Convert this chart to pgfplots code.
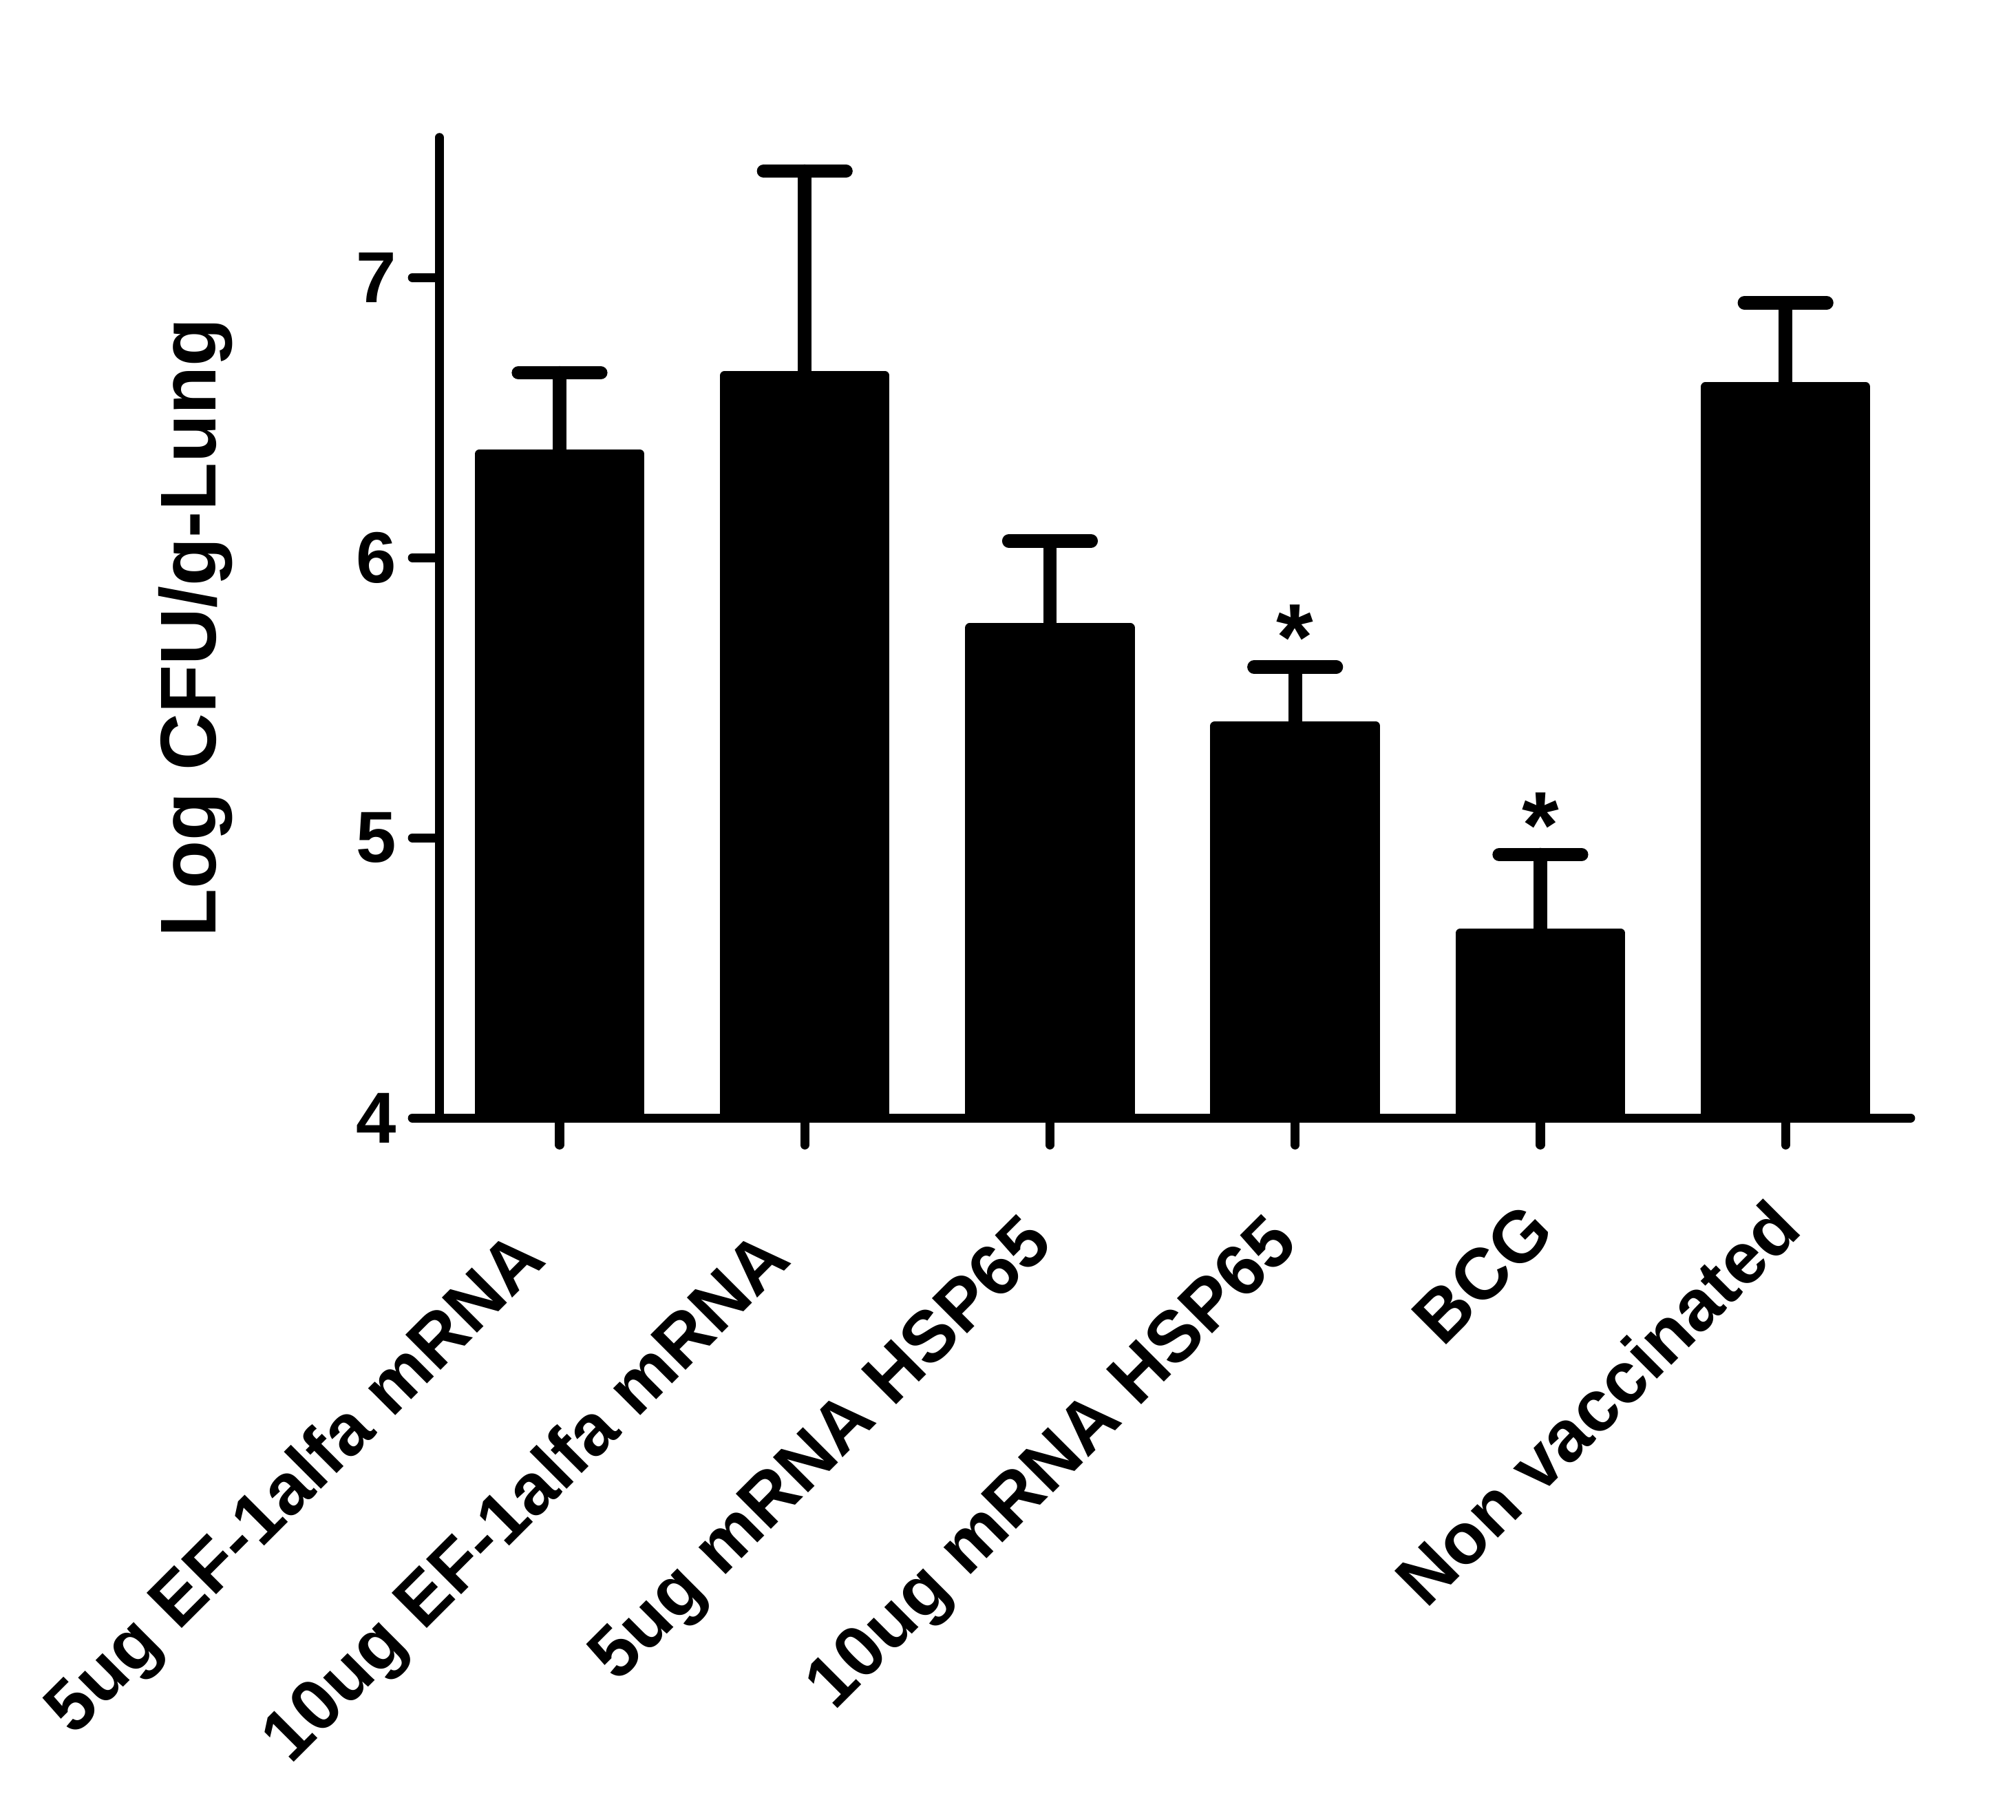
\documentclass[border=0pt]{standalone}
\usepackage{fontspec}
\setmainfont{Liberation Sans}
\usepackage{pgfplots}
\pgfplotsset{compat=1.18}
\begin{document}
\begin{tikzpicture}
\begin{axis}[
  scale only axis, width=11.45cm, height=7.63cm,
  xmin=-0.49, xmax=5.51, ymin=4, ymax=7.5,
  axis x line*=bottom, axis y line*=left,
  axis line style={line width=2pt, line cap=round, -},
  ytick={4,5,6,7}, xtick={0,1,2,3,4,5},
  xticklabels={5ug EF-1alfa mRNA\kern0.335cm, 10ug EF-1alfa mRNA\kern0.335cm, 5ug mRNA HSP65\kern0.153cm, 10ug mRNA HSP65\kern0.153cm, BCG\kern0.025cm, Non vaccinated},
  tick align=outside, major tick length=0.21cm,
  tick style={line width=2pt, black, line cap=round},
  /pgf/number format/assume math mode=true,
  ticklabel style={font=\fontsize{16}{16}\selectfont\bfseries},
  xticklabel style={rotate=45, anchor=east, inner sep=0pt, text height=0.75em, text depth=0.25em, xshift=-0.37cm, yshift=-0.495cm},
  ylabel={Log CFU/g-Lung},
  ylabel style={font=\fontsize{17.5}{17.5}\selectfont\bfseries, at={(axis description cs:-0.166,0.5)}, anchor=center},
]
\addplot[ybar, bar width=1.25cm, bar shift=0pt, fill=black, draw=black, line width=2pt, line join=round,
  error bars/.cd, y dir=plus, y explicit,
  error bar style={line width=3pt, line cap=round},
  error mark options={rotate=90, line width=3pt, mark size=0.32cm, line cap=round}]
  coordinates {
  (0,6.37) +- (0,0.29)
  (1,6.65) +- (0,0.73)
  (2,5.75) +- (0,0.31)
  (3,5.40) +- (0,0.21)
  (4,4.66) +- (0,0.28)
  (5,6.61) +- (0,0.30)
  };
\addplot[draw=none, mark=none, nodes near coords, point meta=explicit symbolic,
  nodes near coords style={font=\fontsize{21}{21}\selectfont\bfseries, anchor=center, yshift=0.23cm}]
  coordinates {(3,5.61) [*] (4,4.94) [*]};
\end{axis}
\pgfresetboundingbox
\path[use as bounding box] (-3.42cm,-5.46cm) rectangle (12.27cm,8.70cm);
\end{tikzpicture}
\end{document}
